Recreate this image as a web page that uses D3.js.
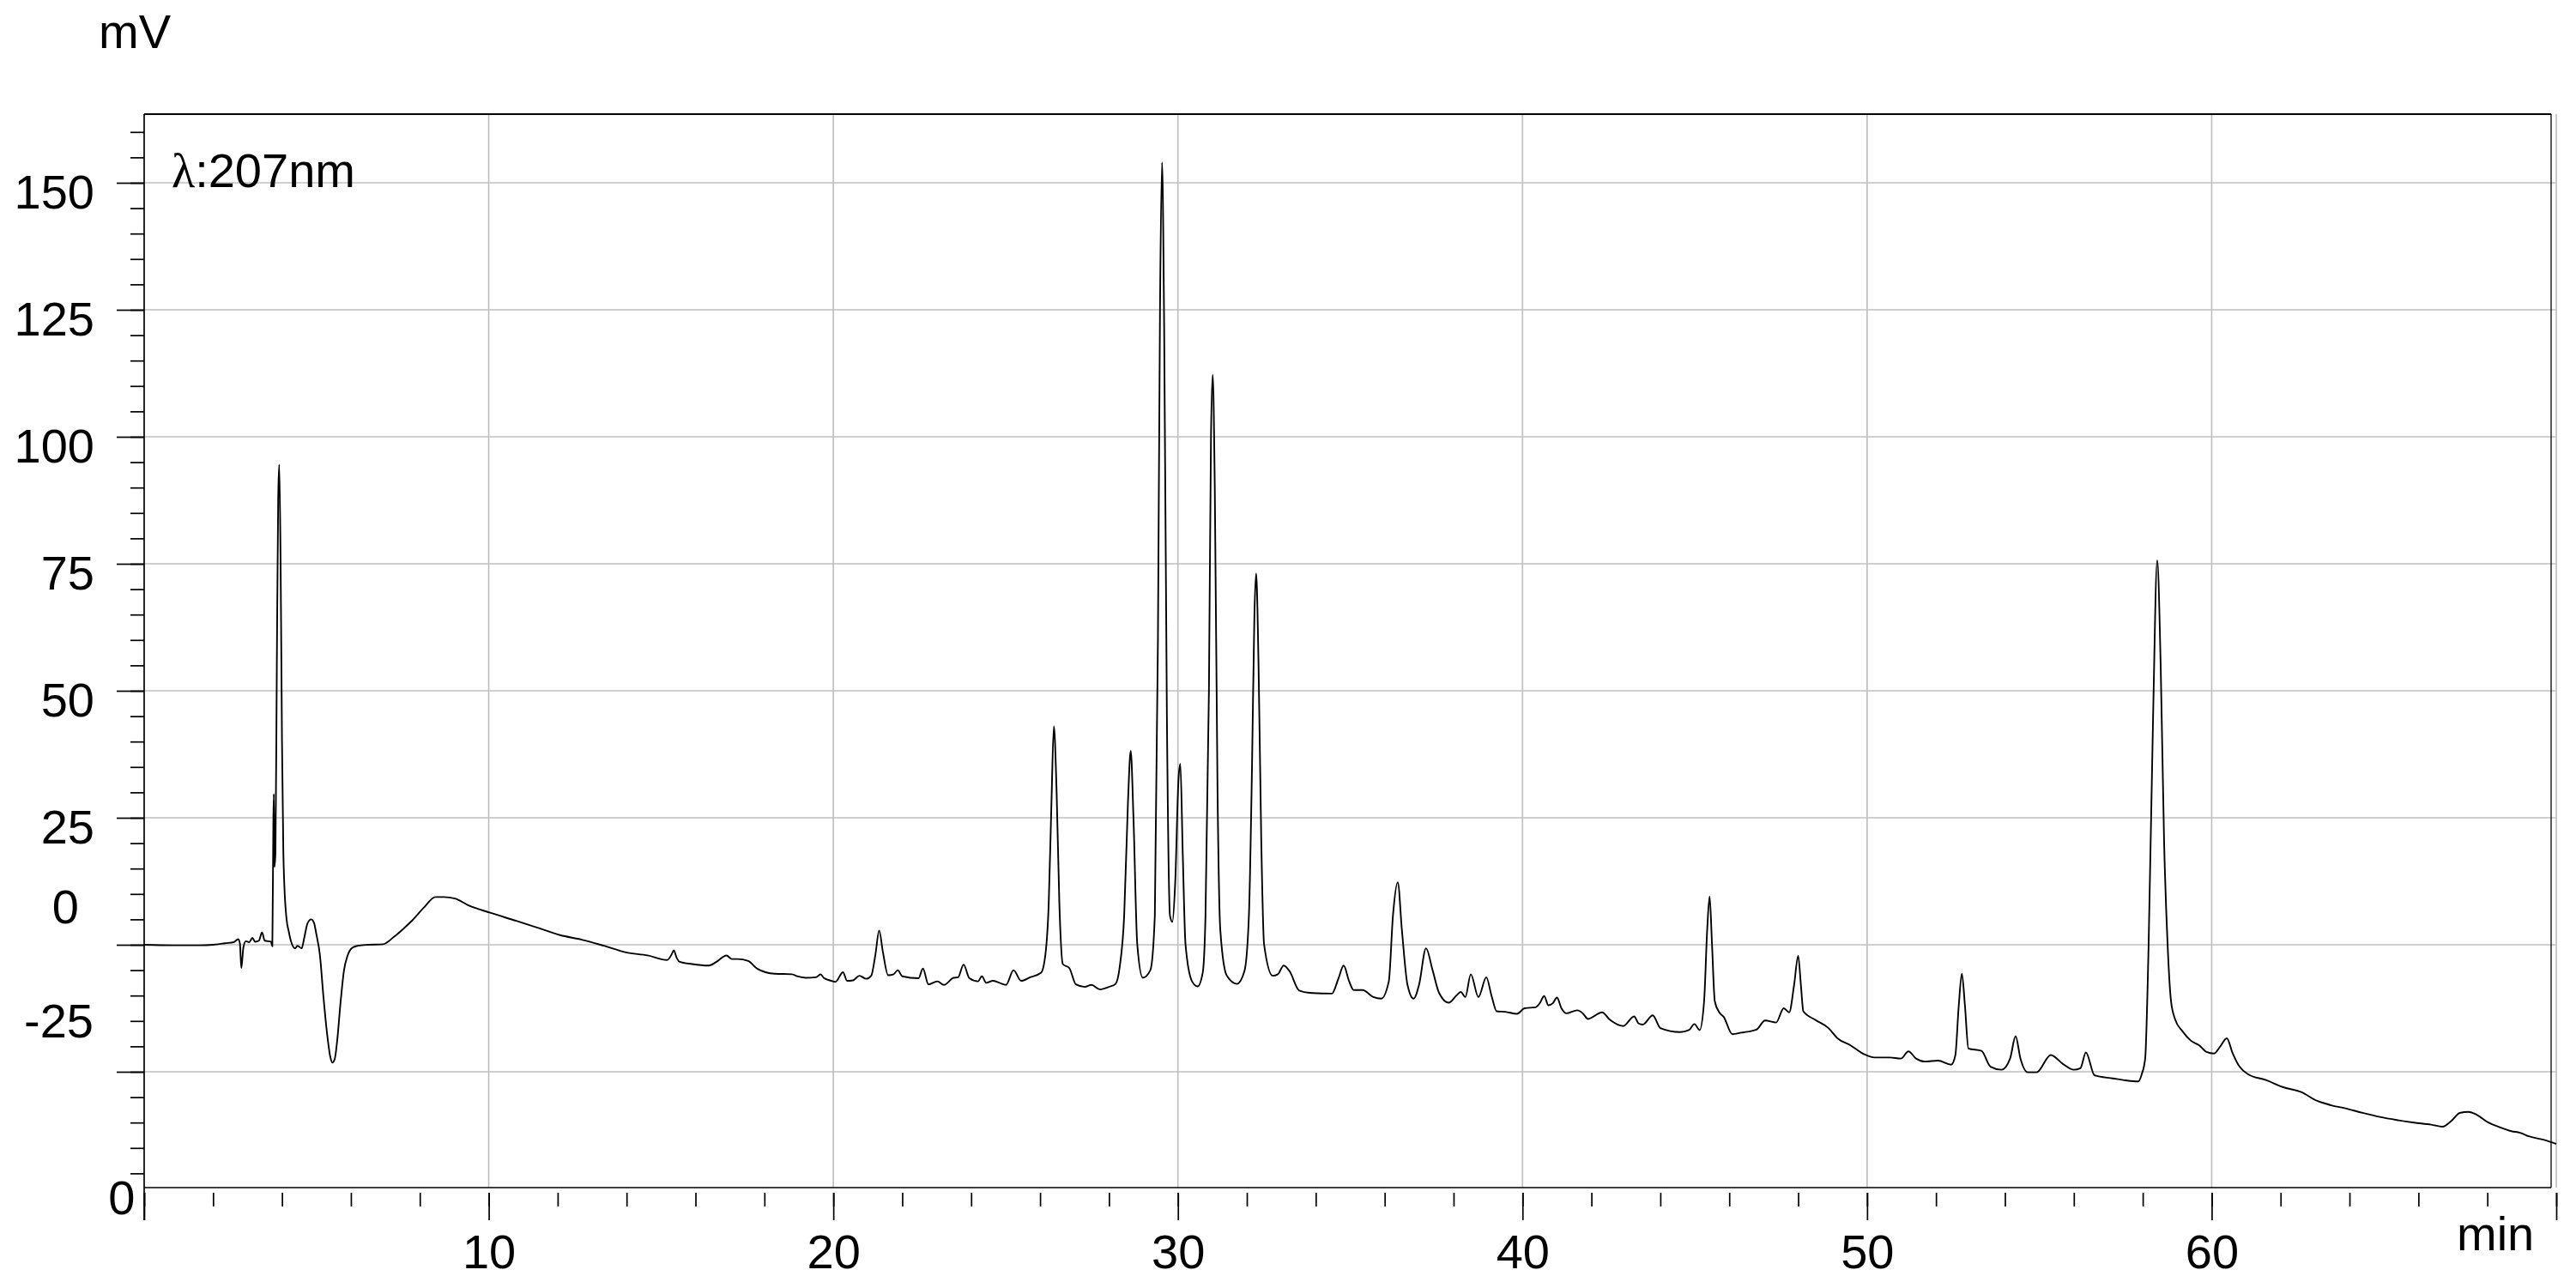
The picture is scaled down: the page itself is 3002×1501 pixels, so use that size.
<!DOCTYPE html>
<html><head><meta charset="utf-8">
<script src="https://cdn.jsdelivr.net/npm/d3@7"></script>
<style>
body{margin:0;background:#fff}
svg{display:block}
text{font-family:"Liberation Sans",Arial,sans-serif;fill:#000}
</style>
</head><body>
<svg id="c" width="3002" height="1501"></svg>
<script>
// ---- data ----
const time = [0,0.8,1.6,2.0,2.35,2.6,2.73,2.78,2.82,2.88,2.95,3.05,3.14,3.22,3.33,3.42,3.5,3.68,3.72,3.75,3.765,3.78,3.81,3.85,3.89,3.92,3.96,4.0,4.04,4.07,4.13,4.2,4.26,4.38,4.45,4.57,4.65,4.74,4.85,4.93,5.0,5.1,5.2,5.3,5.4,5.46,5.53,5.6,5.7,5.8,5.9,6.04,6.2,6.48,6.93,7.24,7.5,7.75,8.13,8.45,8.7,9.02,9.4,10.04,10.8,11.44,12.07,12.7,13.34,13.98,14.61,15.18,15.3,15.37,15.45,15.53,15.9,16.39,16.6,16.9,17.05,17.22,17.53,17.79,18.3,18.8,18.95,19.19,19.5,19.63,19.72,19.94,
20.06,20.28,20.4,20.57,20.76,20.95,21.1,21.22,21.33,21.44,21.59,21.75,21.87,22.0,22.47,22.6,22.76,23.02,23.21,23.49,23.62,23.78,23.95,24.2,24.31,24.44,24.63,24.82,25.01,25.23,25.45,25.71,26.03,26.16,26.25,26.33,26.4,26.48,26.56,26.66,26.85,27.04,27.3,27.49,27.74,28.0,28.19,28.31,28.44,28.55,28.63,28.71,28.82,28.98,29.2,29.33,29.42,29.48,29.54,29.6,29.68,29.77,29.84,29.92,30.02,30.07,30.14,30.22,30.41,30.57,30.72,30.8,30.9,30.96,31.01,31.07,31.15,31.23,31.42,31.71,31.93,32.06,32.15,32.22,32.27,32.34,32.42,32.5,32.75,32.9,33.07,33.24,33.52,33.9,34.47,34.66,34.81,34.97,35.1,35.36,35.67,35.9,36.12,36.24,36.38,36.5,36.66,36.84,37.0,37.2,37.39,37.58,37.86,38.08,38.21,38.34,38.5,38.72,38.95,39.1,39.25,39.5,39.84,
40.06,40.38,40.5,40.63,40.75,40.88,41.0,41.13,41.27,41.59,41.75,41.9,42.31,42.54,42.92,43.24,43.37,43.49,43.78,44.0,44.57,44.83,44.99,45.14,45.27,45.36,45.43,45.5,45.58,45.71,45.84,46.09,46.35,46.79,47.04,47.36,47.58,47.74,47.88,48.0,48.08,48.15,48.5,48.88,49.14,49.52,49.9,50.22,50.66,50.98,51.2,51.42,51.68,52.06,52.44,52.56,52.66,52.75,52.84,52.94,53.32,53.58,53.9,54.15,54.31,54.45,54.66,54.92,55.33,55.69,56.0,56.19,56.35,56.6,57.13,57.51,57.87,57.97,58.07,58.17,58.3,58.42,58.52,58.62,58.72,58.82,58.94,59.15,59.4,59.64,59.85,60.07,60.24,60.44,60.6,60.81,61.06,61.56,62.06,62.6,63.05,63.47,63.88,64.38,64.88,65.37,65.87,66.37,66.7,66.95,67.2,67.45,67.7,68.03,68.36,68.7,68.95,69.2,69.69,70.0];
const signal = [0,-0.1,-0.1,0,0.3,0.5,1.1,0.2,-4.6,-0.5,0.7,0.5,1.35,0.6,0.8,2.4,0.8,0.6,-0.3,25,29.7,15.3,18,55,88,94.5,75,40,18,11.4,5.2,2.5,0.7,-0.7,-0.2,-0.7,1.5,4.2,5.0,4.3,2.0,-2.0,-10,-17,-22,-23.2,-22.5,-19,-11.3,-5,-2.2,-0.6,-0.2,0,0.1,1.5,3.0,4.6,7.4,9.4,9.4,9.1,7.8,6.3,4.7,3.3,1.9,1.0,-0.2,-1.5,-2.1,-3.0,-2.0,-1.1,-2.5,-3.3,-3.8,-4.1,-3.4,-2.1,-2.8,-2.8,-3.2,-4.7,-5.7,-5.8,-6.2,-6.5,-6.4,-5.8,-6.5,-7.1,
-7.3,-5.4,-7.1,-7.0,-6.1,-6.7,-6.1,-2.0,2.8,-1.5,-6.0,-5.8,-5.0,-6.2,-6.6,-4.7,-7.8,-7.2,-7.9,-6.5,-6.4,-3.9,-6.6,-7.2,-6.2,-7.5,-7.1,-7.5,-7.9,-5.0,-7.1,-6.4,-5.5,-1.6,8,28,43.0,30,8,-3.8,-4.6,-7.8,-8.3,-7.9,-8.8,-8.3,-7.7,-4.4,5.7,28,38.2,25,0.1,-6.5,-5.0,5.7,60,125,154,122,45,5.7,4.5,12,33,35.6,18,0.1,-7.2,-8.2,-5.5,5.7,50,100,112.2,90,30,2.9,-6.1,-7.7,-5.2,5.7,35,65,73.1,55,20,0.1,-6.1,-5.8,-4.1,-5.2,-9.0,-9.5,-9.6,-6.6,-4.1,-7.2,-8.9,-8.9,-10.3,-10.6,-7.2,5.7,12.3,2.9,-7.8,-10.6,-7.8,-0.7,-5.0,-9.5,-11.4,-10.0,-9.3,-10.3,-5.8,-10.3,-6.4,-10.0,-13.1,-13.2,-13.6,
-12.5,-12.3,-11.5,-10.1,-11.9,-11.5,-10.4,-12.5,-13.5,-12.9,-13.5,-14.6,-13.3,-14.8,-16.0,-14.1,-15.5,-15.7,-13.9,-16.4,-17.2,-16.8,-15.6,-16.8,-11.1,3,9.5,0,-11.1,-13.3,-14.2,-17.6,-17.3,-16.7,-14.9,-15.3,-12.5,-13.3,-8,-2.2,-8,-13.1,-14.8,-16.4,-18.4,-19.8,-21.5,-22.2,-22.2,-22.4,-21.0,-22.4,-23.0,-22.8,-23.6,-21.8,-12,-5.7,-12,-20.4,-20.9,-24.0,-24.6,-22.4,-18.0,-22.4,-25.1,-25.1,-21.7,-23.5,-24.6,-24.3,-21.2,-25.7,-26.3,-26.7,-26.9,-25.5,-22.4,0,45,75.7,55,20,0.2,-11.1,-14.7,-17.0,-18.9,-19.8,-21.1,-21.4,-20.1,-18.4,-21.2,-24.0,-25.5,-26.6,-28.0,-29.0,-30.7,-31.6,-32.2,-33.1,-33.9,-34.5,-35.0,-35.4,-35.8,-34.7,-33.1,-32.9,-33.5,-35.0,-35.9,-36.7,-37.0,-37.7,-38.5,-39.2];

const xMajorTicks = [0,10,20,30,40,50,60,70];
const xTickLabels = ["0","10","20","30","40","50","60",""];
const xMinorTicks = d3.range(0,70.01,2);
const yMajorTicks = [150,125,100,75,50,25,0,-25];
const yTickLabels = ["150","125","100","75","50","25","0","-25"];
const yMinorTicks = d3.range(-45,161,5);
const yUnitLabel = "mV";
const xUnitLabel = "min";
const channelSymbol = "λ";
const channelText = ":207nm";

// ---- layout ----
const svg = d3.select("#c");
svg.append("rect").attr("width",3002).attr("height",1501).attr("fill","#fff");
const L = 168, R = 2973, T = 133, B = 1384;
const x = d3.scaleLinear().domain([0,70]).range([168,2979]);
const y = d3.scaleLinear().domain([0,150]).range([1101,213]);
const GRID = "#c0c0c0";
const FS = 56;

// gridlines
const grid = svg.append("g");
grid.selectAll("line.h").data(yMajorTicks).join("line")
  .attr("x1",L).attr("x2",x(70)).attr("y1",d=>y(d)).attr("y2",d=>y(d))
  .attr("stroke",GRID).attr("stroke-width",1.7);
grid.selectAll("line.v").data(xMajorTicks.filter(d=>d>0)).join("line")
  .attr("x1",d=>x(d)).attr("x2",d=>x(d)).attr("y1",T).attr("y2",B)
  .attr("stroke",GRID).attr("stroke-width",1.7);

// y axis (minor + major with labels)
const yMinor = svg.append("g").attr("transform",`translate(${L},0)`)
  .call(d3.axisLeft(y).tickValues(yMinorTicks).tickSize(16).tickFormat(""));
yMinor.select(".domain").remove();
const yMajor = svg.append("g").attr("transform",`translate(${L},0)`)
  .call(d3.axisLeft(y).tickValues(yMajorTicks).tickSize(32).tickPadding(26)
    .tickFormat((d,i)=>yTickLabels[i]));
yMajor.select(".domain").remove();
svg.selectAll(".tick line").attr("stroke","#000").attr("stroke-width",1.7);
yMajor.selectAll(".tick text")
  .attr("font-size",FS).attr("font-family","Liberation Sans, Arial, sans-serif")
  .attr("fill","#000").attr("dy",29);
// the lower two labels are drawn offset in the original print-out
yMajor.selectAll(".tick text").filter(d=>d===0).attr("x",-76).attr("dy",-26);
yMajor.selectAll(".tick text").filter(d=>d===-25).attr("x",-59).attr("dy",-41);

// x axis (minor + major with labels)
const xMinor = svg.append("g").attr("transform",`translate(0,1390)`)
  .call(d3.axisBottom(x).tickValues(xMinorTicks).tickSize(16).tickFormat(""));
xMinor.select(".domain").remove();
const xMajor = svg.append("g").attr("transform",`translate(0,1390)`)
  .call(d3.axisBottom(x).tickValues(xMajorTicks).tickSize(32)
    .tickFormat((d,i)=>xTickLabels[i]));
xMajor.select(".domain").remove();
svg.selectAll(".tick line").attr("stroke","#000").attr("stroke-width",1.7);
xMajor.selectAll(".tick text")
  .attr("font-size",FS).attr("font-family","Liberation Sans, Arial, sans-serif")
  .attr("fill","#000").attr("dy",0).attr("y",88);
xMajor.selectAll(".tick text").filter(d=>d===0)
  .attr("text-anchor","end").attr("x",-11).attr("y",25);

// frame
svg.append("line").attr("x1",L).attr("x2",L).attr("y1",T).attr("y2",1422)
  .attr("stroke","#000").attr("stroke-width",1.7);
svg.append("line").attr("x1",L).attr("x2",R).attr("y1",B).attr("y2",B)
  .attr("stroke","#000").attr("stroke-width",1.7);
svg.append("line").attr("x1",L).attr("x2",R).attr("y1",T).attr("y2",T)
  .attr("stroke","#000").attr("stroke-width",2);
svg.append("line").attr("x1",R).attr("x2",R).attr("y1",T).attr("y2",B)
  .attr("stroke","#000").attr("stroke-width",1.3);

// trace
const pts = d3.zip(time, signal);
svg.append("path").datum(pts)
  .attr("fill","none").attr("stroke","#000").attr("stroke-width",1.9)
  .attr("stroke-linejoin","round")
  .attr("d", d3.line().x(d=>x(d[0])).y(d=>y(d[1])).curve(d3.curveMonotoneX));

// texts
svg.append("text").attr("x",115).attr("y",56).attr("font-size",FS).text(yUnitLabel);
svg.append("text").attr("x",2863).attr("y",1457).attr("font-size",FS).text(xUnitLabel);
const lam = svg.append("text").attr("x",200).attr("y",218).attr("font-size",FS);
lam.append("tspan").attr("font-family","Liberation Serif, Times New Roman, serif").text(channelSymbol);
lam.append("tspan").text(channelText);
</script>
</body></html>
